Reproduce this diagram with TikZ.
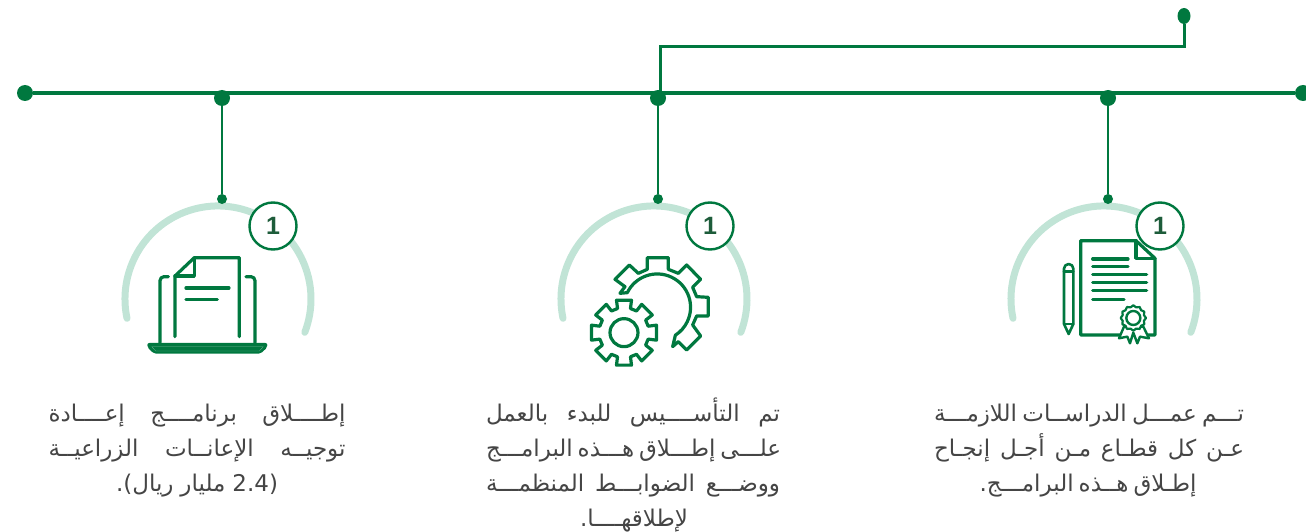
\documentclass[tikz,border=0pt]{standalone}
\usepackage{fontspec}
\usetikzlibrary{shapes.geometric}
\TeXXeTstate=1
\newfontfamily\arabicfont[Script=Arabic]{DejaVu Sans}
\newfontfamily\badgefont{Liberation Sans}
\definecolor{leaf}{HTML}{00783F}
\definecolor{ring}{HTML}{C1E4D6}
\definecolor{ink}{HTML}{454545}
\definecolor{numeral}{HTML}{1D5C3A}
\tikzset{
  bigdot/.style={circle,fill=leaf,inner sep=0pt,minimum size=16pt},
  smalldot/.style={circle,fill=leaf,inner sep=0pt,minimum size=10pt},
  topdot/.style={ellipse,fill=leaf,inner sep=0pt,minimum width=13pt,minimum height=16pt},
  trunk/.style={draw=leaf,line width=3.8pt},
  stem/.style={draw=leaf,line width=2.8pt},
  badge/.style={circle,draw=leaf,line width=2.4pt,fill=white,minimum size=47pt,inner sep=0pt,
    font=\badgefont\bfseries\fontsize{25}{25}\selectfont,text=numeral},
  halo/.style={draw=ring,line width=7pt,line cap=round},
  icon/.style={draw=leaf,line width=3.2pt,line join=round,line cap=round},
  txt/.style={inner sep=0pt,anchor=base,text=ink,font=\arabicfont\fontsize{23}{25}\selectfont}
}
\begin{document}
\begin{tikzpicture}[x=1pt,y=-1pt]
  \useasboundingbox (0,0) rectangle (1306,532);

  % halos
  \foreach \cx in {218,654,1104}
    \draw[halo] (\cx+86.8,332.3) arc[start angle=-21,end angle=192,radius=93pt];

  % timeline
  \node[bigdot] (busL) at (25,93) {};
  \node[bigdot] (busA) at (222,98) {};
  \node[bigdot] (busB) at (658,98) {};
  \node[bigdot] (busC) at (1108,98) {};
  \node[bigdot] (busR) at (1303,93) {};
  \path (busL) edge[trunk] (busR);

  \node[smalldot] (footA) at (222,199) {};
  \node[smalldot] (footB) at (658,199) {};
  \node[smalldot] (footC) at (1108,199) {};
  \path (busA) edge[stem] (footA);
  \path (busB) edge[stem] (footB);
  \path (busC) edge[stem] (footC);

  \node[topdot] (topEnd) at (1184,16) {};
  \coordinate (branchCorner) at (660,46.5);
  \coordinate (branchEnd) at (660,93);
  \draw[stem,line width=3pt] (topEnd) |- (branchCorner) -- (branchEnd);

  % badges
  \node[badge] (numA) at (273,226) {1};
  \node[badge] (numB) at (710,226) {1};
  \node[badge] (numC) at (1160,226) {1};

  % laptop
  \begin{scope}[shift={(100,190)},x=0.3333pt,y=-0.3333pt]
    \draw[icon] (225,440) -- (225,258) -- (283,203) -- (418,203) -- (418,440);
    \draw[icon] (225,258) -- (283,258) -- (283,203);
    \draw[icon] (258,294) -- (387,294);
    \draw[icon] (258,328) -- (352,328);
    \draw[icon,rounded corners=4pt] (180,458) -- (180,260) -- (205,260);
    \draw[icon,rounded corners=4pt] (438,260) -- (465,260) -- (465,458);
    \fill[leaf,rounded corners=2pt] (142,459) -- (502,459) -- (502,472) -- (482,491) -- (162,491) -- (142,472) -- cycle;
    \draw[leaf!55!white,line width=0.3pt] (155,470) -- (490,470) -- (478,483) -- (167,483) -- cycle;
  \end{scope}

  % gears
  \begin{scope}[shift={(540,190)},x=0.3333pt,y=-0.3333pt]
    \draw[icon,line cap=butt,miter limit=3] (262,308) arc[start angle=154,end angle=-57,radius=33.3pt]
      -- (398,470) -- (415,455) -- (440,480) -- (482,438) -- (458,405) -- (470,378) -- (505,378)
      -- (505,322) -- (470,320) -- (458,292) -- (482,268) -- (440,225) -- (415,250) -- (385,238)
      -- (385,203) -- (322,203) -- (322,238) -- (295,250) -- (268,225) -- (225,268) -- (255,290)
      -- (240,310) -- cycle;
    \begin{scope}[shift={(252,428)}]
      \draw[icon] (0,0) circle[radius=14pt];
      \draw[icon] (-15:75)
        \foreach \a in {0,45,...,315} {
          -- (\a-13:100) -- (\a+13:100) -- (\a+15:75) -- (\a+30:75)
        } -- cycle;
    \end{scope}
  \end{scope}

  % certificate
  \begin{scope}[shift={(990,190)},x=0.3333pt,y=-0.3333pt]
    \draw[icon] (272,152) -- (438,152) -- (495,205) -- (495,435) -- (272,435) -- cycle;
    \draw[icon] (438,152) -- (438,205) -- (495,205);
    \foreach \ly/\lx in {207/414,230/414,253/470,278/470,302/470,328/402}
      \draw[icon] (308,\ly) -- (\lx,\ly);
    \draw[icon,line width=2.6pt] (222,402) -- (222,236) arc[start angle=180,end angle=0,radius=4.67pt] -- (250,402) -- (236,432) -- cycle;
    \draw[icon,line width=2.6pt] (222,244) -- (250,244);
    \draw[icon,line width=2.6pt] (222,402) -- (250,402);
    \draw[icon,fill=white,line width=2.4pt] (402,410) -- (387,445) -- (412,440) -- (420,460) -- (430,428) -- (442,460) -- (450,440) -- (477,445) -- (460,410) -- cycle;
    \begin{scope}[shift={(430,384)}]
      \draw[icon,fill=white,line width=2.2pt] (-15:33)
        \foreach \a in {0,30,...,330} { -- (\a:38) -- (\a+15:33) } -- cycle;
      \draw[icon,line width=2.4pt] (0,0) circle[radius=7pt];
    \end{scope}
  \end{scope}

  % text right
  \node[txt] (rightA) at (1089,421) {\makebox[310pt][s]{\beginR تـــم عمـــل الدراســات اللازمـــة\endR}};
  \node[txt] (rightB) at (1089,456) {\makebox[310pt][s]{\beginR عـن كل قطـاع مـن أجـل إنجـاح\endR}};
  \node[txt] (rightC) at (1088,491) {\makebox[217pt][s]{\beginR إطـلاق هــذه البرامـــج.\endR}};

  % text middle
  \node[txt] (midA) at (633,421) {\makebox[294pt][s]{\beginR تم التأســــيس للبدء بالعمل\endR}};
  \node[txt] (midB) at (633,456) {\makebox[294pt][s]{\beginR علـــى إطـــلاق هـــذه البرامـــج\endR}};
  \node[txt] (midC) at (633,491) {\makebox[294pt][s]{\beginR ووضـــع الضوابـــط المنظمـــة\endR}};
  \node[txt] (midD) at (634,526) {\beginR لإطلاقهــــا.\endR};

  % text left
  \node[txt] (leftA) at (197,421) {\makebox[297pt][s]{\beginR إطــــلاق برنامــــج إعــــادة\endR}};
  \node[txt] (leftB) at (197,456) {\makebox[297pt][s]{\beginR توجيــه الإعانــات الزراعيــة\endR}};
  \node[txt] (leftC) at (197,491) {\makebox[162pt][s]{\beginR (\beginL 2.4\endL{} مليار ريال).\endR}};
\end{tikzpicture}
\end{document}
